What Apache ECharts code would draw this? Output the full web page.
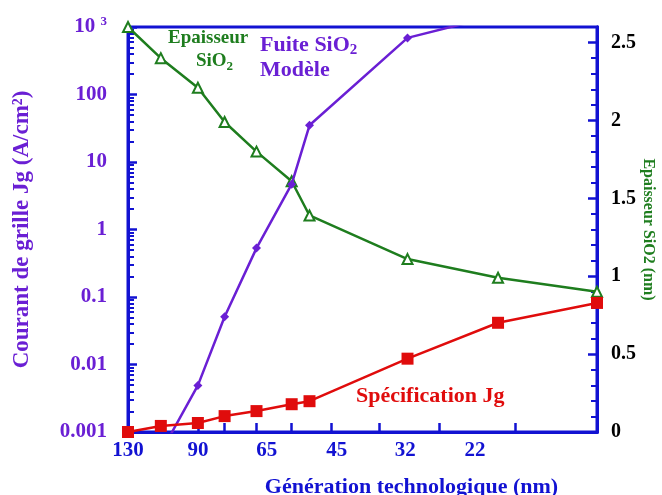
<!DOCTYPE html>
<html>
<head>
<meta charset="utf-8">
<script src="https://cdn.jsdelivr.net/npm/echarts@6/dist/echarts.min.js"></script>
<style>
  html, body { margin: 0; padding: 0; background: #fff; }
  #main { width: 662px; height: 495px; }
</style>
</head>
<body>
<div id="main"></div>
<script>
// position of each node along the generation axis (0 = 130 nm, 10 = right edge)
var xPos = [0, 0.70, 1.49, 2.06, 2.74, 3.49, 3.87, 5.96, 7.89, 10];
// Spécification Jg (A/cm2), log axis
var specJg = [0.001, 0.00123, 0.00136, 0.00172, 0.00204, 0.00258, 0.00286, 0.0122, 0.0415, 0.0817];
// Fuite SiO2 modèle (A/cm2) - first and last points fall outside the frame
var fuiteX = [0.70, 1.49, 2.06, 2.74, 3.49, 3.87, 5.96, 7.89];
var fuite = [0.0005, 0.0049, 0.051, 0.53, 4.7, 35, 690, 1500];
// Epaisseur SiO2 (nm), right axis
var epaisseur = [2.6, 2.40, 2.21, 1.99, 1.80, 1.61, 1.39, 1.11, 0.99, 0.90];

// x axis ticks and labels
var xTicks = [0, 1.49, 2.06, 2.74, 3.49, 4.34, 5.36, 6.64, 8.26, 10];
var xLabelPos = [0, 1.49, 2.96, 4.45, 5.91, 7.40];
var xLabels = ['130', '90', '65', '45', '32', '22'];

// left log axis
var logMajor = [0.001, 0.01, 0.1, 1, 10, 100, 1000];
var logMinor = [];
logMajor.slice(0, -1).forEach(function (d) {
    for (var k = 2; k <= 9; k++) logMinor.push(+(d * k).toPrecision(3));
});
// right axis
var rightMajor = [0, 0.5, 1, 1.5, 2, 2.5];
var rightMinor = [];
for (var i = 1; i < 26; i++) { if (i % 5) rightMinor.push(i / 10); }

var blue = '#1212d2';
var purple = '#6a1fd4';
var green = '#1e7d1e';
var red = '#e00c0c';
var serif = 'Liberation Serif';

function pairs(xs, ys) {
    return xs.map(function (x, i) { return [x, ys[i]]; });
}

var chart = echarts.init(document.getElementById('main'));
chart.setOption({
    animation: false,
    backgroundColor: '#fff',
    grid: {
        left: 128, right: 65, top: 27, bottom: 63,
        outerBoundsMode: 'none',
        show: true, borderColor: blue, borderWidth: 3
    },
    xAxis: {
        type: 'value', min: 0, max: 10,
        splitLine: {show: false},
        axisLine: {onZero: false, lineStyle: {color: blue, width: 3}},
        axisTick: {show: true, inside: true, length: 9, customValues: xTicks,
            lineStyle: {color: blue, width: 2.5}},
        axisLabel: {
            customValues: xLabelPos,
            formatter: function (v) {
                var idx = xLabelPos.indexOf(v);
                return idx >= 0 ? xLabels[idx] : '';
            },
            color: blue, fontFamily: serif, fontWeight: 'bold', fontSize: 21, margin: 8
        },
        name: 'Génération technologique (nm)',
        nameLocation: 'middle', nameGap: 44,
        nameTextStyle: {color: blue, fontFamily: serif, fontWeight: 'bold', fontSize: 22,
            padding: [0, 0, 0, 98]}
    },
    yAxis: [
        {
            type: 'log', min: 0.001, max: 1000, position: 'left',
            splitLine: {show: false},
            axisLine: {onZero: false, lineStyle: {color: blue, width: 3}},
            axisTick: {inside: true, length: 9, customValues: logMajor,
                lineStyle: {color: blue, width: 2.5}},
            axisLabel: {
                customValues: logMajor,
                formatter: function (v) {
                    if (v >= 999) return '10 {sup|3}';
                    return String(+v.toPrecision(3));
                },
                color: purple, fontFamily: serif, fontWeight: 'bold', fontSize: 21, margin: 21,
                rich: {sup: {fontSize: 13, verticalAlign: 'bottom', padding: [0, 0, 10, 0],
                    color: purple, fontFamily: serif, fontWeight: 'bold'}}
            },
            name: 'Courant de grille Jg (A/cm²)',
            nameLocation: 'middle', nameGap: 94,
            nameTextStyle: {color: purple, fontFamily: serif, fontWeight: 'bold', fontSize: 23}
        },
        {
            type: 'log', min: 0.001, max: 1000, position: 'left',
            splitLine: {show: false},
            axisLine: {show: true, onZero: false, lineStyle: {color: blue, width: 3}},
            axisTick: {show: true, inside: true, length: 6, customValues: logMinor,
                lineStyle: {color: blue, width: 2}},
            axisLabel: {show: false}
        },
        {
            type: 'value', min: 0, max: 2.6, position: 'right',
            splitLine: {show: false},
            axisLine: {onZero: false, lineStyle: {color: blue, width: 3}},
            axisTick: {inside: true, length: 9, customValues: rightMajor,
                lineStyle: {color: blue, width: 2.5}},
            axisLabel: {
                customValues: rightMajor,
                color: '#000', fontFamily: serif, fontWeight: 'bold', fontSize: 20, margin: 14
            },
            name: 'Epaisseur SiO2 (nm)',
            nameLocation: 'middle', nameGap: 43, nameRotate: -90,
            nameMoveOverlap: false,
            nameTextStyle: {color: green, fontFamily: serif, fontWeight: 'bold', fontSize: 16}
        },
        {
            type: 'value', min: 0, max: 2.6, position: 'right',
            splitLine: {show: false},
            axisLine: {show: true, onZero: false, lineStyle: {color: blue, width: 3}},
            axisTick: {show: true, inside: true, length: 6, customValues: rightMinor,
                lineStyle: {color: blue, width: 2}},
            axisLabel: {show: false}
        }
    ],
    series: [
        {
            name: 'Epaisseur SiO2',
            type: 'line',
            yAxisIndex: 2,
            data: pairs(xPos, epaisseur),
            symbol: 'emptyTriangle', symbolSize: 10,
            lineStyle: {color: green, width: 2.5},
            itemStyle: {color: green, borderWidth: 1.5},
            z: 3
        },
        {
            name: 'Fuite SiO2 Modèle',
            type: 'line',
            yAxisIndex: 0,
            data: pairs(fuiteX, fuite),
            clip: true,
            symbol: 'diamond', symbolSize: 9,
            lineStyle: {color: purple, width: 2.5},
            itemStyle: {color: purple},
            z: 4
        },
        {
            name: 'Spécification Jg',
            type: 'line',
            yAxisIndex: 0,
            data: pairs(xPos, specJg),
            symbol: 'rect', symbolSize: 12,
            lineStyle: {color: red, width: 2.5},
            itemStyle: {color: red},
            z: 5
        }
    ],
    graphic: [
        {
            type: 'text', left: 168, top: 29,
            style: {text: 'Epaisseur', fill: green, font: 'bold 19px "Liberation Serif"'}
        },
        {
            type: 'text', left: 196, top: 52,
            style: {
                text: 'SiO{sub|2}', fill: green, font: 'bold 19px "Liberation Serif"',
                rich: {sub: {fontSize: 13, fontWeight: 'bold', fontFamily: serif,
                    fill: green, verticalAlign: 'top', padding: [10, 0, 0, 0]}}
            }
        },
        {
            type: 'text', left: 260, top: 34,
            style: {
                text: 'Fuite SiO{sub|2}', fill: purple, font: 'bold 22px "Liberation Serif"',
                rich: {sub: {fontSize: 15, fontWeight: 'bold', fontFamily: serif,
                    fill: purple, verticalAlign: 'top', padding: [11, 0, 0, 0]}}
            }
        },
        {
            type: 'text', left: 260, top: 59,
            style: {text: 'Modèle', fill: purple, font: 'bold 22px "Liberation Serif"'}
        },
        {
            type: 'text', left: 356, top: 385,
            style: {text: 'Spécification Jg', fill: red, font: 'bold 22px "Liberation Serif"'}
        }
    ]
});
</script>
</body>
</html>
